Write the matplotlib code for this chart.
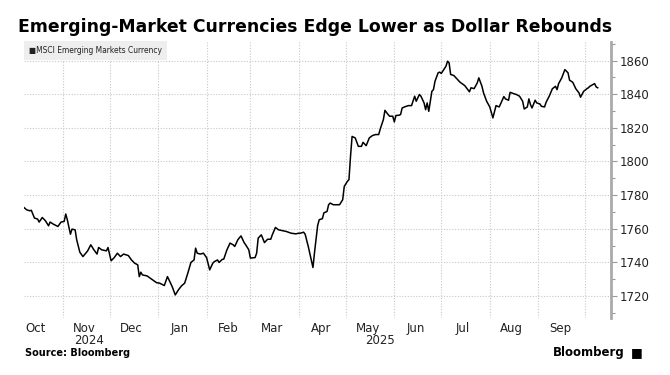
import pandas as pd
import matplotlib
matplotlib.use("Agg")
import matplotlib.pyplot as plt
import matplotlib.dates as mdates
import matplotlib.transforms as mtrans
from matplotlib.ticker import MultipleLocator

# MSCI Emerging Markets Currency index
start = pd.Timestamp("2024-10-01")
days = [6, 8, 10, 11, 13, 15, 16, 18, 20, 22, 23, 25, 28, 30, 32, 33, 34, 36, 37, 39,
        40, 42, 44, 47, 49, 51, 53, 54, 56, 59, 60, 62, 64, 66, 68, 70, 73, 75, 77, 79,
        80, 81, 82, 85, 88, 91, 93, 96, 98, 100, 101, 103, 105, 107, 109, 111, 113, 115, 116, 117,
        119, 121, 123, 125, 127, 128, 130, 131, 133, 134, 136, 138, 140, 141, 143, 145, 147, 148, 150, 151,
        154, 155, 156, 158, 160, 162, 164, 165, 167, 169, 172, 174, 177, 180, 182, 183, 185, 186, 188, 191,
        192, 194, 195, 197, 198, 200, 201, 202, 204, 206, 208, 210, 211, 213, 214, 215, 216, 218, 220, 222,
        223, 225, 227, 229, 231, 233, 234, 236, 237, 239, 240, 242, 243, 244, 246, 247, 248, 250, 252, 254,
        256, 257, 259, 260, 262, 263, 264, 265, 267, 268, 269, 271, 272, 273, 274, 276, 277, 278, 279, 281,
        283, 285, 288, 291, 292, 294, 296, 297, 299, 300, 302, 304, 306, 308, 310, 311, 313, 314, 316, 317,
        319, 321, 323, 325, 326, 328, 329, 330, 331, 333, 334, 336, 337, 339, 340, 342, 344, 346, 347, 348,
        350, 352, 354, 355, 357, 359, 361, 362, 364, 366, 367, 368, 371, 372, 373]
values = [1772.9, 1771.3, 1770.7, 1771.0, 1766.4, 1765.8, 1764.0, 1766.7, 1764.8, 1761.8,
          1764.0, 1762.8, 1761.4, 1764.0, 1764.4, 1768.8, 1765.4, 1756.8, 1759.8, 1759.4,
          1753.5, 1746.1, 1743.5, 1746.9, 1750.5, 1747.5, 1745.0, 1748.9, 1747.5, 1746.9,
          1748.9, 1741.0, 1742.9, 1745.5, 1743.5, 1745.0, 1744.1, 1741.5, 1739.6, 1738.6,
          1731.6, 1734.2, 1732.6, 1732.0, 1730.0, 1728.0, 1727.7, 1726.3, 1731.6, 1727.7,
          1725.7, 1720.7, 1723.7, 1726.1, 1727.7, 1733.6, 1740.0, 1741.5, 1748.5, 1745.5,
          1745.0, 1745.5, 1742.9, 1735.6, 1739.6, 1740.5, 1741.5, 1740.0, 1741.8, 1742.0,
          1747.5, 1751.5, 1750.5, 1749.5, 1753.5, 1755.8, 1751.8, 1750.5, 1747.5, 1742.6,
          1742.9, 1745.5, 1754.5, 1756.4, 1751.8, 1753.8, 1753.8, 1756.4, 1760.8, 1759.4,
          1758.8, 1758.4, 1757.4, 1757.0, 1757.4, 1757.4, 1758.0, 1756.8, 1749.5, 1737.0,
          1746.0, 1762.0, 1765.4, 1766.0, 1769.5, 1770.3, 1774.3, 1775.3, 1774.3, 1774.3,
          1774.3, 1777.3, 1785.2, 1788.2, 1789.2, 1803.0, 1814.9, 1814.0, 1809.0, 1809.0,
          1811.4, 1809.4, 1814.0, 1815.4, 1816.0, 1816.0, 1819.3, 1824.9, 1830.4, 1827.9,
          1826.9, 1826.9, 1823.5, 1827.3, 1827.5, 1827.9, 1831.8, 1832.6, 1833.2, 1833.2,
          1838.8, 1835.8, 1839.8, 1838.8, 1834.8, 1830.8, 1834.8, 1829.8, 1841.7, 1842.7,
          1847.7, 1852.7, 1853.1, 1852.3, 1853.7, 1856.6, 1859.6, 1858.6, 1851.7, 1851.1,
          1849.1, 1847.1, 1845.1, 1841.4, 1843.8, 1843.3, 1846.7, 1849.7, 1844.7, 1840.8,
          1835.8, 1832.4, 1825.9, 1833.2, 1832.4, 1834.4, 1838.6, 1837.2, 1836.4, 1841.1,
          1840.4, 1839.8, 1838.8, 1835.8, 1831.2, 1832.4, 1837.2, 1833.8, 1831.8, 1836.4,
          1834.8, 1834.2, 1832.8, 1832.4, 1835.2, 1838.8, 1843.2, 1844.7, 1842.7, 1846.3,
          1849.7, 1854.6, 1852.7, 1848.3, 1847.1, 1843.2, 1840.8, 1838.2, 1841.7, 1843.2,
          1843.8, 1844.7, 1846.3, 1844.3, 1843.8]
dates = start + pd.to_timedelta(days, unit="D")

series_name = "MSCI Emerging Markets Currency"
title = "Emerging-Market Currencies Edge Lower as Dollar Rebounds"
month_labels = pd.date_range("2024-10-01", "2025-09-01", freq="MS") + pd.Timedelta(days=14)
year_labels = {"2024-11-18": "2024", "2025-05-23": "2025"}

fig = plt.figure(figsize=(6.7, 3.75), dpi=100)
ax = fig.add_axes([0.036, 0.152, 0.876, 0.736])

ax.plot(dates, values, color="black", lw=1.1, zorder=3)

ax.set_xlim(start + pd.Timedelta(days=6.4), start + pd.Timedelta(days=381.5))
ax.set_ylim(1707, 1871)

# month-start gridlines, labels centred mid-month
ax.xaxis.set_major_locator(mdates.MonthLocator())
ax.xaxis.set_major_formatter(plt.NullFormatter())
ax.xaxis.set_minor_locator(plt.FixedLocator(mdates.date2num(month_labels)))
ax.xaxis.set_minor_formatter(mdates.DateFormatter("%b"))
ax.tick_params(axis="x", which="both", length=0, labelsize=8.5, labelcolor="#222222", pad=3)

ax.yaxis.tick_right()
ax.yaxis.set_major_locator(MultipleLocator(20))
ax.yaxis.set_minor_locator(MultipleLocator(10))
ax.tick_params(axis="y", which="major", length=4, width=0.8, color="#999999",
               labelsize=8.5, labelcolor="#222222", pad=2)
ax.tick_params(axis="y", which="minor", length=3, width=0.8, color="#999999")

ax.grid(True, which="major", color="#c8c8c8", ls=(0, (1, 1.5)), lw=0.8)
for side in ["top", "left", "bottom"]:
    ax.spines[side].set_visible(False)
ax.spines["right"].set_color("#aaaaaa")
ax.spines["right"].set_linewidth(2)

trans = mtrans.blended_transform_factory(ax.transData, ax.transAxes)
for d, lab in year_labels.items():
    ax.text(pd.Timestamp(d), -0.058, lab, transform=trans, ha="center", va="top",
            fontsize=8.5, color="#222222")

fig.text(0.027, 0.915, title, fontsize=12.4, fontweight="bold", color="black")

ax.text(0.008, 0.985, "\u25a0" + series_name, transform=ax.transAxes, fontsize=6,
        fontstretch="condensed",
        va="top", ha="left", color="#222222", zorder=4,
        bbox=dict(boxstyle="square,pad=0.6", fc="#eeeeee", ec="none"))

fig.text(0.037, 0.05, "Source: Bloomberg", fontsize=7, fontweight="bold", color="black")
fig.text(0.933, 0.05, "Bloomberg", fontsize=8.5, fontweight="bold", color="black", ha="right")
fig.text(0.942, 0.05, "\u25a0", fontsize=9, color="black", ha="left")

fig.savefig("out.png", dpi=100)
